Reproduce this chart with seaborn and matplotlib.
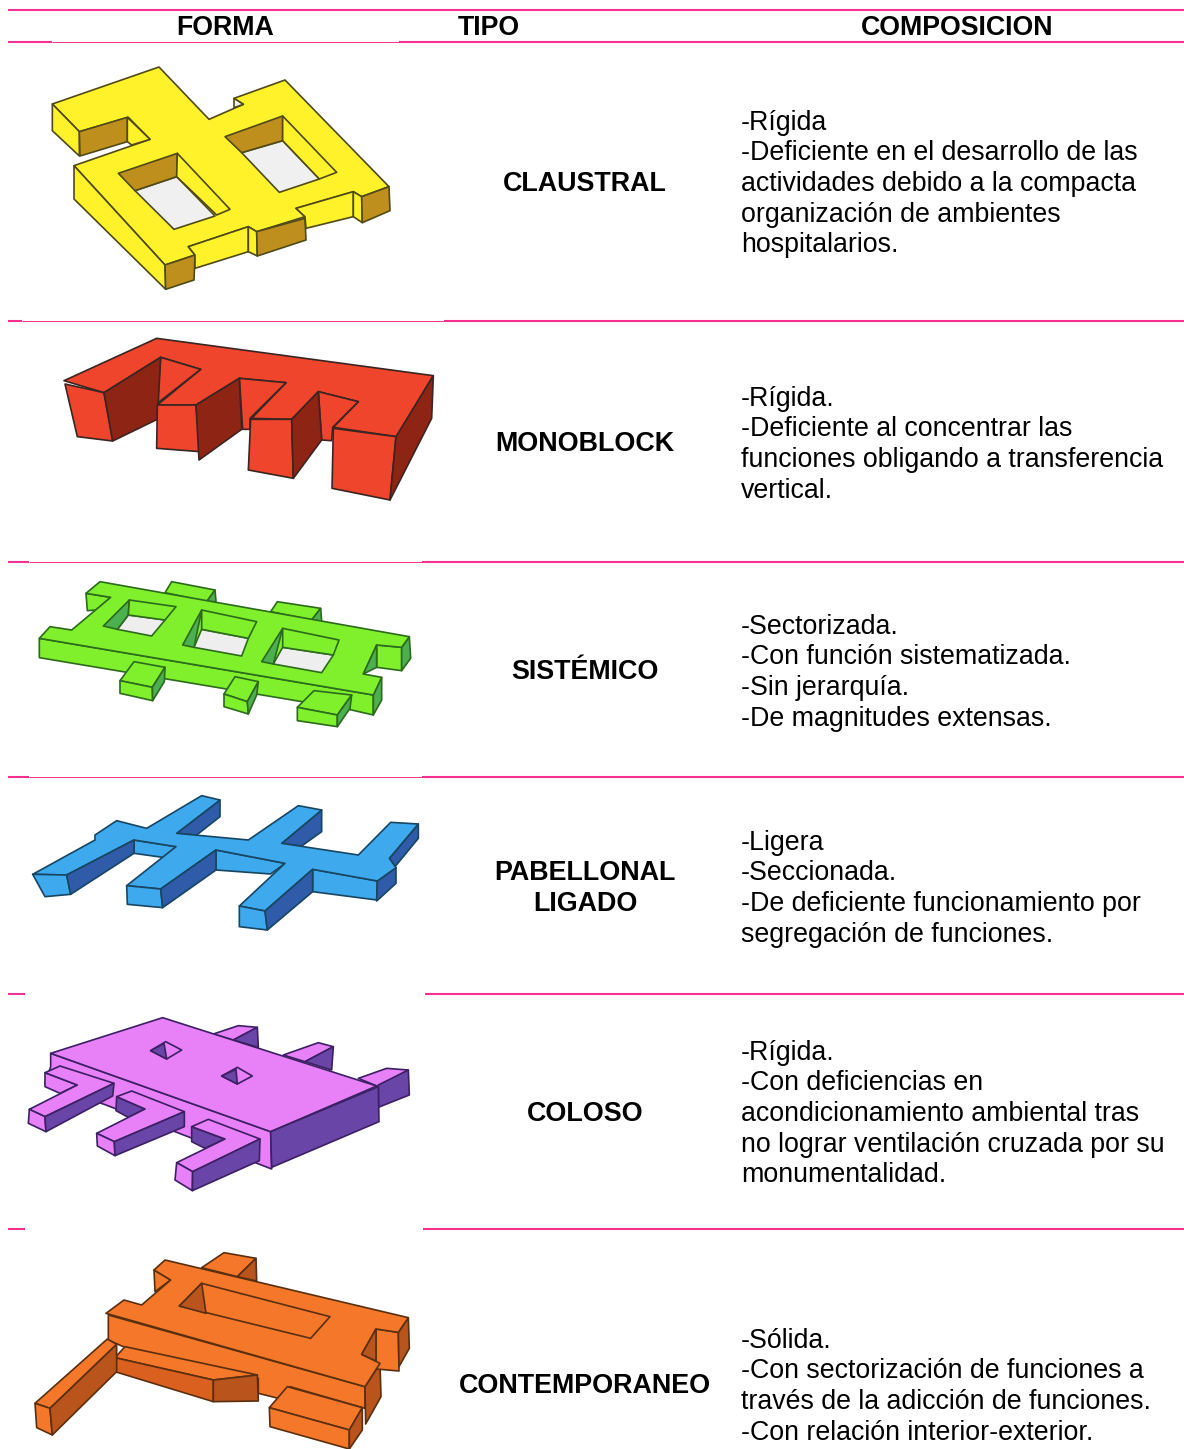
import matplotlib
matplotlib.use('Agg')
import matplotlib.pyplot as plt
import seaborn as sns

headers = ['FORMA', 'TIPO', 'COMPOSICION']
types = [['CLAUSTRAL'], ['MONOBLOCK'], ['SISTÉMICO'], ['PABELLONAL', 'LIGADO'], ['COLOSO'], ['CONTEMPORANEO']]
compositions = [
    ['-Rígida', '-Deficiente en el desarrollo de las', 'actividades debido a la compacta',
     'organización de ambientes', 'hospitalarios.'],
    ['-Rígida.', '-Deficiente al concentrar las', 'funciones obligando a transferencia', 'vertical.'],
    ['-Sectorizada.', '-Con función sistematizada.', '-Sin jerarquía.', '-De magnitudes extensas.'],
    ['-Ligera', '-Seccionada.', '-De deficiente funcionamiento por', 'segregación de funciones.'],
    ['-Rígida.', '-Con deficiencias en', 'acondicionamiento ambiental tras',
     'no lograr ventilación cruzada por su', 'monumentalidad.'],
    ['-Sólida.', '-Con sectorización de funciones a', 'través de la adicción de funciones.',
     '-Con relación interior-exterior.'],
]
comp_first_y = [119.5, 395.5, 623.5, 839.5, 1049.5, 1337.5]
type_y = [181, 441, 669, 870, 1111, 1383]

# pink rules: y, thin part start/end (None = gap instead of thin line)
rule_y = [10, 42, 321, 562, 777, 994, 1229]
rule_thin = [None, (52, 399), (22, 444), (29, 422), (29, 422), None, None]
rule_gap = [None, None, None, None, None, (25, 425), (25, 423)]

yellow = [
    ('top', [(157,312),(477,201),(627,358),(730,313),(702,295),(855,240),(1167,560),(1085,590),(1060,575),(888,625),(915,650),(770,695),(745,680),(565,740),(585,765),(495,795),(222,497),(450,418),(385,352),(238,395)]),
    ('hole', [(702,295),(730,313),(702,323)]),
    ('top', [(157,312),(238,395),(238,468),(157,392)]),
    ('dark', [(238,395),(382,352),(382,425),(240,468)]),
    ('top', [(382,352),(450,418),(395,435),(382,425)]),
    ('top', [(222,497),(495,795),(497,868),(222,597)]),
    ('dark', [(495,795),(585,765),(582,840),(497,868)]),
    ('top', [(565,740),(745,680),(745,755),(585,805),(585,765)]),
    ('top', [(745,680),(770,695),(772,768),(745,755)]),
    ('dark', [(770,695),(915,655),(918,720),(772,768)]),
    ('top', [(888,625),(1060,575),(1060,650),(918,685),(915,650)]),
    ('top', [(1060,575),(1085,590),(1087,668),(1060,650)]),
    ('dark', [(1085,590),(1167,560),(1170,632),(1087,668)]),
    ('hole', [(405,572),(530,530),(645,648),(522,688)]),
    ('dark', [(355,520),(532,460),(530,530),(405,572)]),
    ('top', [(532,460),(690,628),(650,645),(530,530)]),
    ('hole', [(725,458),(848,422),(958,537),(838,577)]),
    ('dark', [(675,410),(848,348),(848,422),(725,458)]),
    ('top', [(848,348),(1010,517),(958,537),(848,422)]),
]
red = [
    ('top', [(192,182),(470,55),(1300,167),(1190,350),(1000,322),(1075,245),(955,215),(875,298),(755,295),(858,188),(718,175),(588,255),(472,255),(602,148),(482,112),(312,218)]),
    ('top', [(482,112),(602,148),(472,250)]),
    ('top', [(718,175),(858,188),(750,295),(750,328),(728,328)]),
    ('top', [(955,215),(1075,245),(998,322),(995,362),(965,360)]),
    ('top', [(195,192),(312,218),(338,363),(232,350)]),
    ('dark', [(312,218),(482,112),(472,298),(338,363)]),
    ('top', [(472,255),(588,255),(600,395),(470,385)]),
    ('dark', [(588,255),(718,175),(725,328),(597,420)]),
    ('top', [(752,298),(875,298),(880,475),(745,450)]),
    ('dark', [(875,298),(955,215),(965,360),(880,475)]),
    ('top', [(1000,325),(1188,350),(1170,540),(996,505)]),
    ('dark', [(1188,350),(1300,167),(1295,295),(1170,540)]),
]
green = [
    ('top', [(495,98),(515,65),(645,90),(620,125)]),
    ('dark', [(645,90),(648,125),(620,125)]),
    ('top', [(812,155),(832,125),(962,145),(935,180)]),
    ('dark', [(962,145),(965,185),(935,180)]),
    ('top', [(258,100),(332,112),(290,150),(262,152)]),
    ('top', [(118,235),(1120,405),(1120,465),(1055,450),(118,293)]),
    ('dark', [(1120,405),(1145,352),(1145,420),(1120,465)]),
    ('top', [(1130,255),(1205,262),(1205,332),(1130,322)]),
    ('dark', [(1205,262),(1228,230),(1232,295),(1205,332)]),
    ('top', [(300,65),(1228,230),(1205,262),(1130,255),(1090,342),(1145,352),(1120,405),(118,235),(150,200),(215,210),(332,112),(258,100)]),
    ('dark', [(1130,255),(1130,322),(1118,328),(1090,342)]),
    ('top', [(360,362),(402,305),(495,322),(457,382)]),
    ('top', [(360,362),(457,382),(458,422),(360,400)]),
    ('dark', [(457,382),(495,322),(493,365),(458,422)]),
    ('top', [(672,402),(705,350),(775,365),(742,425)]),
    ('top', [(672,402),(742,425),(745,462),(672,440)]),
    ('dark', [(742,425),(775,365),(770,405),(745,462)]),
    ('top', [(892,442),(942,392),(1055,405),(1012,465)]),
    ('top', [(892,442),(1012,465),(1012,500),(892,482)]),
    ('dark', [(1012,465),(1055,405),(1050,445),(1012,500)]),
    ('hole', [(352,208),(385,165),(495,180),(455,228)]),
    ('dark', [(310,198),(388,120),(385,165),(352,208)]),
    ('top', [(388,120),(528,140),(495,180),(385,165)]),
    ('hole', [(582,262),(605,208),(745,235),(725,288)]),
    ('dark', [(548,255),(605,150),(582,262)]),
    ('top', [(605,150),(770,185),(745,235),(605,208)]),
    ('hole', [(820,312),(848,262),(1000,285),(965,338)]),
    ('dark', [(785,305),(848,205),(820,312)]),
    ('top', [(848,205),(1017,240),(1000,285),(848,262)]),
]
blue = [
    ('dark', [(660,75),(660,125),(590,180),(530,175)]),
    ('dark', [(965,105),(965,170),(905,213),(845,205)]),
    ('dark', [(1168,250),(1255,147),(1255,190),(1185,275)]),
    ('top', [(402,195),(528,215),(495,248),(402,235)]),
    ('top', [(648,225),(855,265),(812,297),(648,285)]),
    ('top', [(938,283),(1132,318),(1130,375),(938,350)]),
    ('dark', [(1132,318),(1188,278),(1188,325),(1130,378)]),
    ('top', [(98,298),(285,195),(285,180),(350,137),(440,160),(605,62),(660,75),(530,175),(745,195),(895,92),(965,105),(845,205),(1075,240),(1172,142),(1255,147),(1168,250),(1188,278),(1132,318),(938,283),(795,408),(718,393),(855,265),(648,225),(482,342),(380,332),(528,215),(402,195),(200,300)]),
    ('top', [(98,298),(200,300),(212,358),(135,365)]),
    ('dark', [(200,300),(402,195),(402,235),(212,358)]),
    ('top', [(380,332),(482,342),(488,398),(382,388)]),
    ('dark', [(482,342),(648,225),(648,285),(488,398)]),
    ('top', [(718,393),(795,408),(802,465),(718,455)]),
    ('dark', [(795,408),(938,283),(938,350),(802,465)]),
]
purple = [
    ('top', [(640,132),(715,107),(772,112),(700,150)]),
    ('dark', [(772,112),(775,172),(700,150)]),
    ('top', [(850,195),(955,158),(1000,170),(915,215)]),
    ('dark', [(1000,170),(995,240),(915,215)]),
    ('top', [(1075,265),(1160,235),(1225,240),(1135,290)]),
    ('dark', [(1225,240),(1228,315),(1135,352),(1135,285)]),
    ('top', [(152,190),(812,425),(815,537),(525,425),(318,345),(135,280),(152,230)]),
    ('top', [(152,190),(488,83),(1130,288),(812,425)]),
    ('dark', [(812,425),(1135,290),(1137,395),(815,532)]),
    ('top', [(452,182),(497,155),(545,180),(500,207)]),
    ('dark', [(452,182),(492,160),(500,207)]),
    ('top', [(665,258),(712,232),(757,258),(712,282)]),
    ('dark', [(665,258),(708,238),(712,282)]),
    ('top', [(135,248),(232,285),(180,310),(135,290)]),
    ('top', [(135,248),(180,228),(342,280),(135,380),(88,358),(232,285)]),
    ('top', [(88,358),(135,380),(138,425),(85,400)]),
    ('dark', [(135,380),(342,280),(338,318),(138,425)]),
    ('dark', [(350,320),(435,357),(385,382),(348,362)]),
    ('top', [(350,320),(395,303),(553,365),(343,455),(290,430),(435,357)]),
    ('top', [(290,430),(343,455),(345,497),(292,468)]),
    ('dark', [(343,455),(553,365),(553,410),(345,497)]),
    ('dark', [(575,410),(675,447),(615,475),(575,455)]),
    ('top', [(575,410),(625,388),(780,447),(578,545),(530,518),(675,447)]),
    ('top', [(530,518),(578,545),(577,602),(525,570)]),
    ('dark', [(578,545),(780,447),(778,512),(577,602)]),
]
orange = [
    ('top', [(605,128),(672,83),(768,100),(712,155)]),
    ('dark', [(768,100),(770,168),(712,155)]),
    ('top', [(462,135),(512,165),(465,200)]),
    ('top', [(325,270),(1095,485),(1095,550),(870,485),(835,520),(775,505),(775,460),(370,365),(325,345)]),
    ('dark', [(1095,485),(1140,415),(1143,515),(1097,597)]),
    ('top', [(1128,312),(1195,322),(1197,438),(1128,432)]),
    ('dark', [(1195,322),(1225,278),(1228,370),(1197,425)]),
    ('top', [(318,265),(372,225),(425,240),(512,165),(462,135),(495,105),(1225,278),(1195,322),(1128,312),(1085,388),(1140,415),(1095,485)]),
    ('dark', [(1128,312),(1085,388),(1128,408)]),
    ('top', [(538,243),(605,175),(990,275),(932,340)]),
    ('dark', [(538,243),(605,175),(618,265)]),
    ('top', [(345,398),(375,365),(772,450),(640,465)]),
    ('mid', [(345,398),(640,465),(640,530),(345,440)]),
    ('dark', [(640,465),(772,450),(775,528),(640,530)]),
    ('top', [(105,535),(322,342),(350,358),(150,550)]),
    ('top', [(105,535),(150,550),(157,630),(110,608)]),
    ('dark', [(150,550),(350,358),(350,440),(157,630)]),
    ('top', [(808,548),(862,485),(1087,548),(1048,615)]),
    ('top', [(808,548),(1048,615),(1048,672),(810,605)]),
    ('dark', [(1048,615),(1087,548),(1087,615),(1048,672)]),
]
shapes = [yellow, red, green, blue, purple, orange]
shape_y0 = [0, 320, 560, 775, 990, 1225]  # top of each zoomed-in crop the outlines were read from
palettes = [
    {'top': '#FFF22B', 'dark': '#BF8F1E', 'hole': '#F0F0F0', 'edge': '#4F4A18'},
    {'top': '#EE452C', 'dark': '#8E2413', 'hole': '#F0F0F0', 'edge': '#3A2522'},
    {'top': '#80F02D', 'dark': '#4CAF50', 'hole': '#EEEEEE', 'edge': '#2C6A1C'},
    {'top': '#3FA9EE', 'dark': '#2F5BA8', 'hole': '#F0F0F0', 'edge': '#174663'},
    {'top': '#E880F8', 'dark': '#6A45A8', 'hole': '#F0F0F0', 'edge': '#3C2064'},
    {'top': '#F5772A', 'dark': '#B8541C', 'mid': '#D9601F', 'hole': '#F0F0F0', 'edge': '#5A2F10'},
]

pink = '#F8308F'
line_h = 30.7

sns.set_theme(style='white')
plt.rcParams['font.family'] = ['Liberation Sans', 'DejaVu Sans']

fig = plt.figure(figsize=(11.84, 14.49), dpi=100)
ax = fig.add_axes([0, 0, 1, 1])

# the rules
for y, thin, gap in zip(rule_y, rule_thin, rule_gap):
    if gap:
        pieces = [(8, gap[0], 1.5), (gap[1], 1184, 1.5)]
    elif thin:
        pieces = [(8, thin[0], 1.5), (thin[0], thin[1], 0.7), (thin[1], 1184, 1.5)]
    else:
        pieces = [(8, 1184, 1.5)]
    for x0, x1, lw in pieces:
        sns.lineplot(x=[x0, x1], y=[y, y], color=pink, linewidth=lw, estimator=None,
                     solid_capstyle='butt', ax=ax)

# the drawings
for faces, y0, pal in zip(shapes, shape_y0, palettes):
    for kind, pts in faces:
        xs = [p[0] / 3 for p in pts]
        ys = [p[1] / 3 + y0 for p in pts]
        ax.fill(xs, ys, facecolor=pal[kind], edgecolor=pal['edge'], linewidth=1.2, joinstyle='round')

# header
for label, x in zip(headers, [225, 489, 957]):
    ax.text(x, 25, label, ha='center', va='center_baseline', fontsize=19.3, fontweight='bold', color='black')

# type column
for lines, y in zip(types, type_y):
    for i, line in enumerate(lines):
        ax.text(585, y + i * line_h, line, ha='center', va='center_baseline', fontsize=19.35,
                fontweight='bold', color='black')

# composition column
for lines, y in zip(compositions, comp_first_y):
    for i, line in enumerate(lines):
        ax.text(741, y + i * line_h, line, ha='left', va='center_baseline', fontsize=19.25, color='black')

ax.set_xlim(0, 1184)
ax.set_ylim(1449, 0)
ax.axis('off')
fig.savefig('out.png', dpi=100, facecolor='white')
